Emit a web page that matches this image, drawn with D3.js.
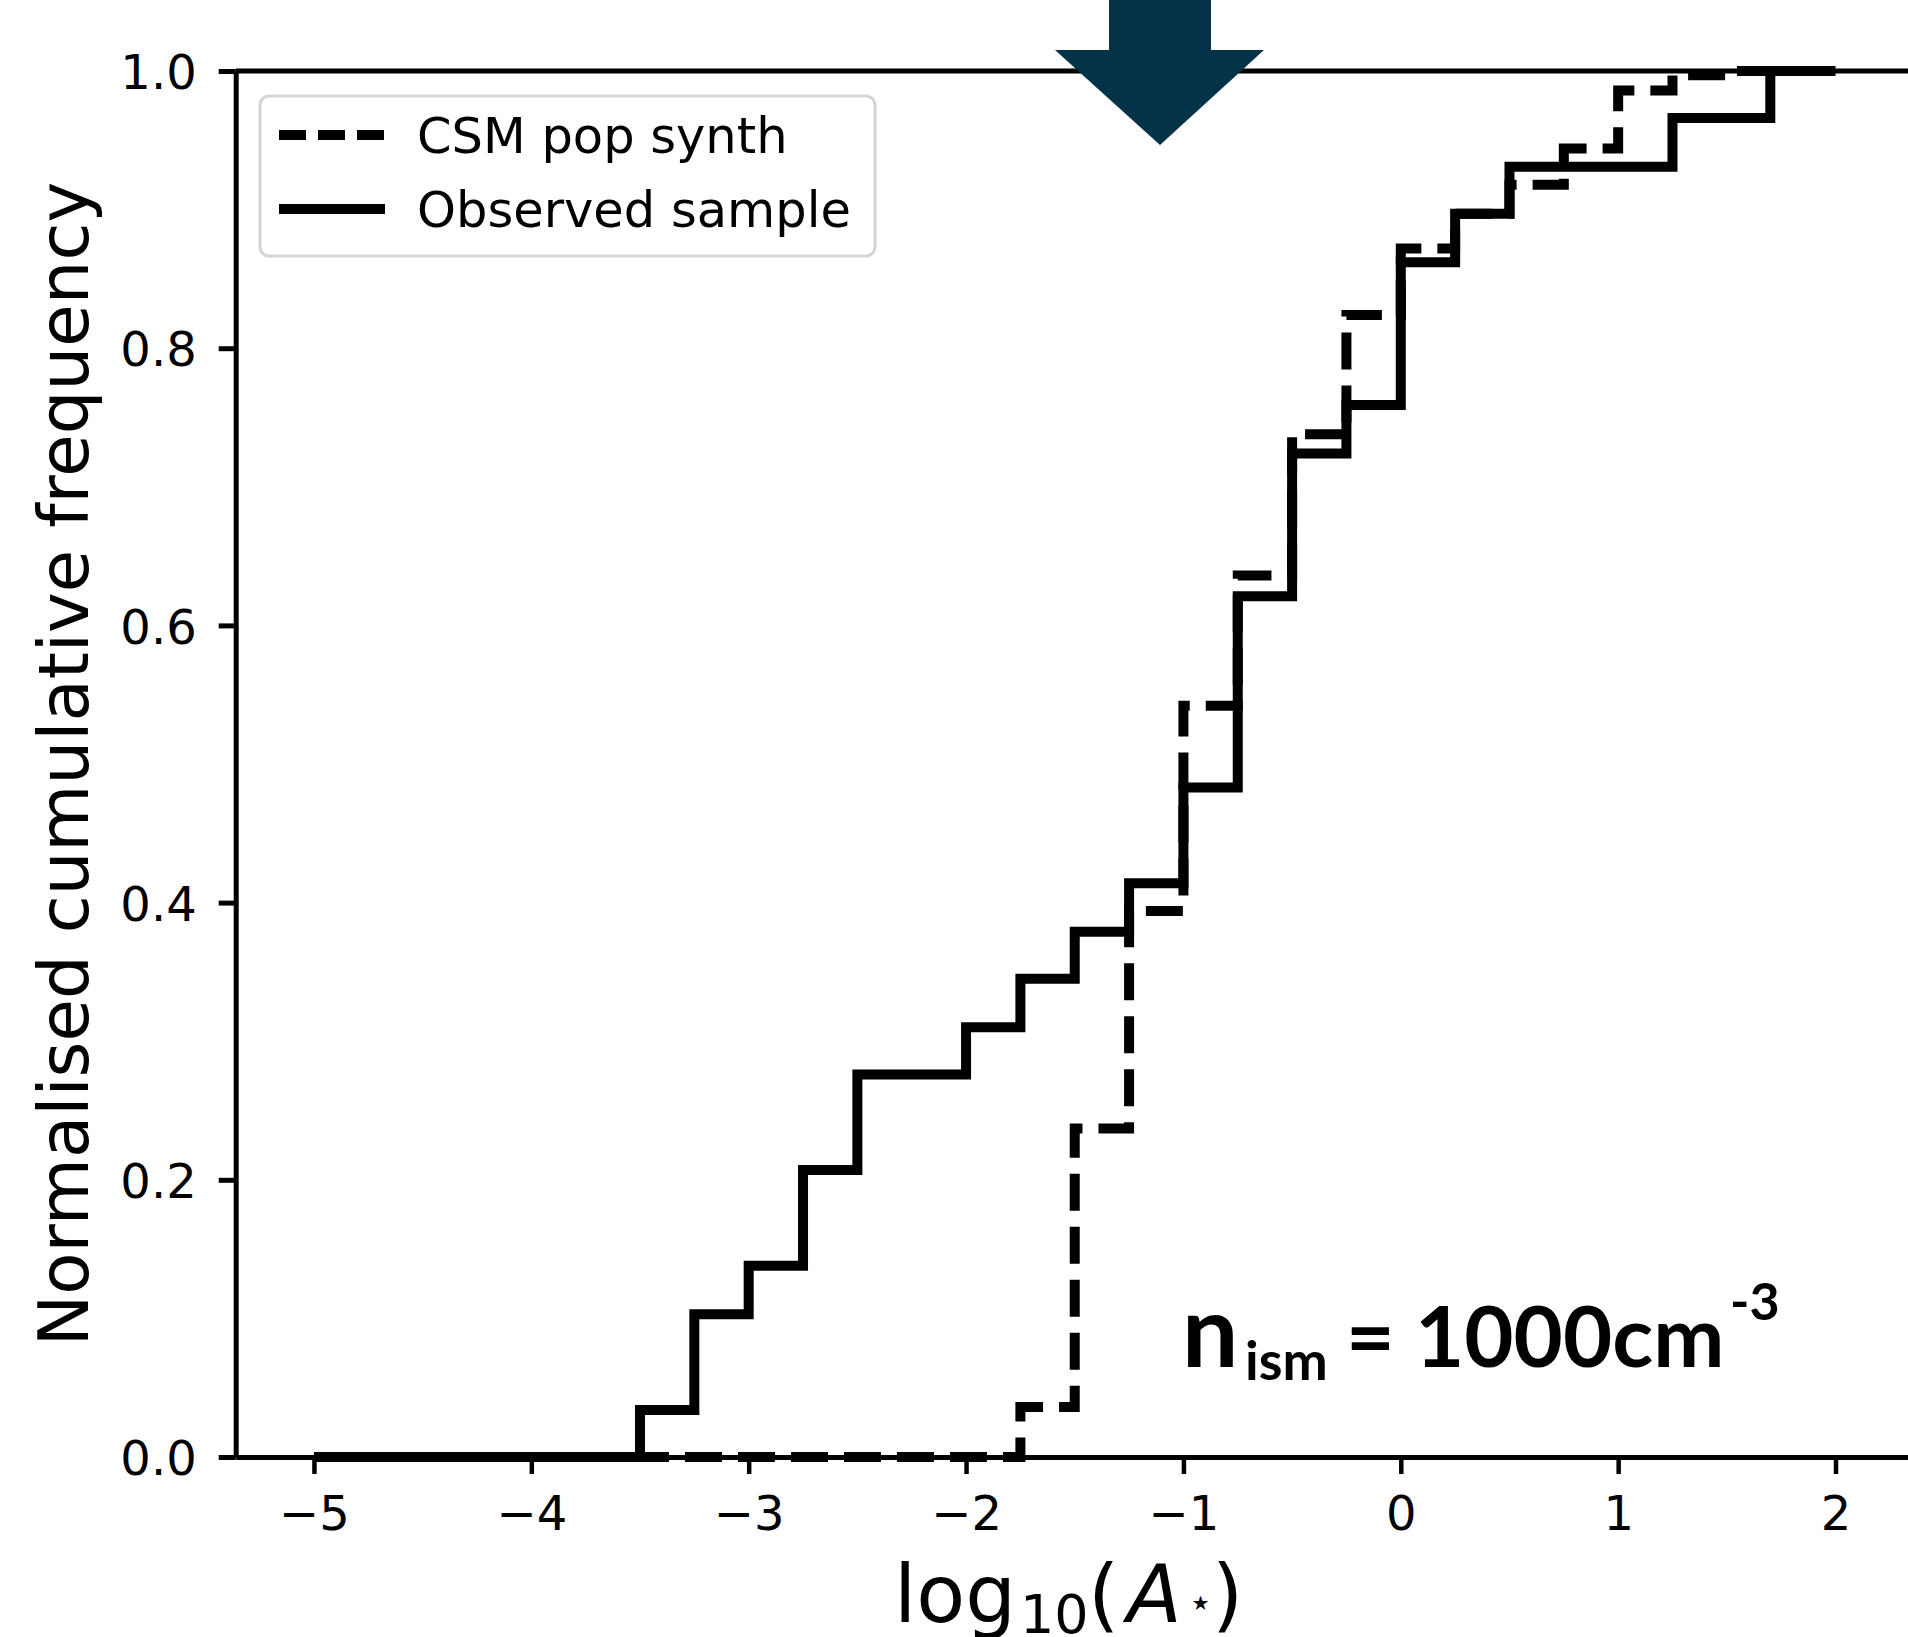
<!DOCTYPE html>
<html>
<head>
<meta charset="utf-8">
<script src="https://cdn.jsdelivr.net/npm/d3@7"></script>
<style>
  body { margin: 0; background: #fff; }
  svg { display: block; font-family: "DejaVu Sans", sans-serif; }
</style>
</head>
<body>
<div id="chart"></div>
<script>
// Values
const xTicks = [-5, -4, -3, -2, -1, 0, 1, 2];
const yTicks = [0, 0.2, 0.4, 0.6, 0.8, 1.0];

// CSM pop synth (dashed): bin edges and the cumulative level of each bin
const csmEdges = [-5, -1.75, -1.5, -1.25, -1, -0.75, -0.5, -0.25, 0, 0.25, 0.5, 0.75, 1, 1.25, 1.5, 2];
const csmValues = [0, 0.036, 0.237, 0.394, 0.542, 0.636, 0.738, 0.824, 0.872, 0.897, 0.918, 0.944, 0.986, 0.997, 1.0];

// Observed sample (solid)
const obsEdges = [-5, -3.5, -3.25, -3, -2.75, -2.5, -2, -1.75, -1.5, -1.25, -1, -0.75, -0.5, -0.25, 0, 0.25, 0.5, 1.25, 1.7, 2];
const obsValues = [0, 0.034, 0.103, 0.138, 0.207, 0.276, 0.310, 0.345, 0.379, 0.414, 0.483, 0.621, 0.724, 0.759, 0.862, 0.897, 0.931, 0.966, 1.0];

const seriesNames = ["CSM pop synth", "Observed sample"];

function drawChart(container) {
    const width = 1908;
    const height = 1637;
    const plotLeft = 235.7;
    const plotRight = 1911.6;
    const plotTop = 71;
    const plotBottom = 1457;

    const x = d3.scaleLinear()
        .domain([-5.36, 2.35])
        .range([plotLeft, plotRight]);

    const y = d3.scaleLinear()
        .domain([0, 1])
        .range([plotBottom, plotTop]);

    const svg = d3.select(container).append("svg")
        .attr("width", width)
        .attr("height", height)
        .attr("viewBox", [0, 0, width, height])
        .style("background", "#fff");

    // step outlines, one per series
    const series = [
        { name: seriesNames[0], edges: csmEdges, values: csmValues, dash: "37,16", legendDash: "27,12" },
        { name: seriesNames[1], edges: obsEdges, values: obsValues, dash: null, legendDash: null }
    ];

    const line = d3.line()
        .x(d => x(d.x))
        .y(d => y(d.y))
        .curve(d3.curveStepAfter);

    svg.append("g")
        .selectAll("path")
        .data(series)
        .join("path")
            .attr("fill", "none")
            .attr("stroke", "#000")
            .attr("stroke-width", 10)
            .attr("stroke-linejoin", "miter")
            .attr("stroke-dasharray", d => d.dash)
            .attr("d", d => line(d.edges.map((e, i) => ({ x: e, y: d.values[Math.min(i, d.values.length - 1)] }))));

    // x axis
    const xAxis = svg.append("g")
        .attr("transform", `translate(0,${plotBottom})`)
        .call(d3.axisBottom(x)
            .tickValues(xTicks)
            .tickSize(17)
            .tickSizeOuter(0)
            .tickPadding(22)
            .tickFormat(d => (d < 0 ? "\u2212" : "") + Math.abs(d)));
    xAxis.select(".domain").attr("stroke-width", 5);
    xAxis.selectAll(".tick line").attr("stroke-width", 4.5);
    xAxis.selectAll(".tick text")
        .attr("font-size", 48)
        .attr("font-family", "DejaVu Sans")
        .attr("fill", "#000");

    // y axis
    const yAxis = svg.append("g")
        .attr("transform", `translate(${plotLeft},0)`)
        .call(d3.axisLeft(y)
            .tickValues(yTicks)
            .tickSize(17)
            .tickSizeOuter(0)
            .tickPadding(22)
            .tickFormat(d3.format(".1f")));
    yAxis.select(".domain").attr("stroke-width", 5);
    yAxis.selectAll(".tick line").attr("stroke-width", 5);
    yAxis.selectAll(".tick text")
        .attr("font-size", 48)
        .attr("font-family", "DejaVu Sans")
        .attr("dy", "0.37em")
        .attr("fill", "#000");

    // top and right spines
    svg.append("line")
        .attr("x1", plotLeft).attr("x2", plotRight)
        .attr("y1", plotTop).attr("y2", plotTop)
        .attr("stroke", "#000").attr("stroke-width", 5);
    svg.append("line")
        .attr("x1", plotRight).attr("x2", plotRight)
        .attr("y1", plotTop).attr("y2", plotBottom)
        .attr("stroke", "#000").attr("stroke-width", 5);

    // axis labels
    svg.append("text")
        .attr("transform", `translate(88,${(plotTop + plotBottom) / 2}) rotate(-90)`)
        .attr("text-anchor", "middle")
        .attr("font-size", 69)
        .attr("fill", "#000")
        .text("Normalised cumulative frequency");

    // log10(A*) set like mathtext: upright log, subscript 10, italic A, star subscript
    const xLabel = svg.append("text")
        .attr("x", 894)
        .attr("y", 1622)
        .attr("font-size", 80)
        .attr("fill", "#000");
    xLabel.append("tspan").text("log");
    xLabel.append("tspan").attr("x", 1020).attr("dy", 11).attr("font-size", 54).text("10");
    xLabel.append("tspan").attr("x", 1088).attr("dy", -11).text("(");
    xLabel.append("tspan").attr("x", 1127).attr("font-style", "italic").text("A");
    xLabel.append("tspan").attr("x", 1188).attr("dy", -6).attr("font-size", 40).text("\u22c6");
    xLabel.append("tspan").attr("x", 1212).attr("dy", 6).text(")");

    // legend
    const legend = svg.append("g");
    legend.append("rect")
        .attr("x", 260).attr("y", 96)
        .attr("width", 615).attr("height", 160)
        .attr("rx", 9)
        .attr("fill", "#fff").attr("fill-opacity", 0.8)
        .attr("stroke", "#d4d4d4").attr("stroke-width", 3);

    const entry = legend.selectAll("g.entry")
        .data(series)
        .join("g")
            .attr("class", "entry")
            .attr("transform", (d, i) => `translate(0,${i * 74})`);
    entry.append("line")
        .attr("x1", 279).attr("x2", 385)
        .attr("y1", 135).attr("y2", 135)
        .attr("stroke", "#000").attr("stroke-width", 10)
        .attr("stroke-dasharray", d => d.legendDash);
    entry.append("text")
        .attr("x", 417).attr("y", 153)
        .attr("font-size", 49.5)
        .attr("fill", "#000")
        .text(d => d.name);

    // density annotation
    const note = svg.append("text")
        .attr("font-family", "Lato, 'Open Sans', sans-serif")
        .attr("font-weight", 700)
        .attr("fill", "#000");
    note.append("tspan").attr("x", 1182).attr("y", 1367).attr("font-size", 100).text("n");
    note.append("tspan").attr("x", 1245).attr("y", 1380).attr("font-size", 54).text("ism");
    note.append("tspan").attr("x", 1346).attr("y", 1367).attr("font-size", 84).text("=");
    note.append("tspan").attr("x", 1415).attr("y", 1367).attr("font-size", 85).text("1000cm");
    note.append("tspan").attr("x", 1730).attr("y", 1320).attr("font-size", 52).text("-3");

    // arrow pointing down onto the plot
    svg.append("path")
        .attr("fill", "#043348")
        .attr("d", "M1109,-5 L1211,-5 L1211,50 L1264,50 L1160,145 L1055,50 L1109,50 Z");
}

drawChart("#chart");
</script>
</body>
</html>
